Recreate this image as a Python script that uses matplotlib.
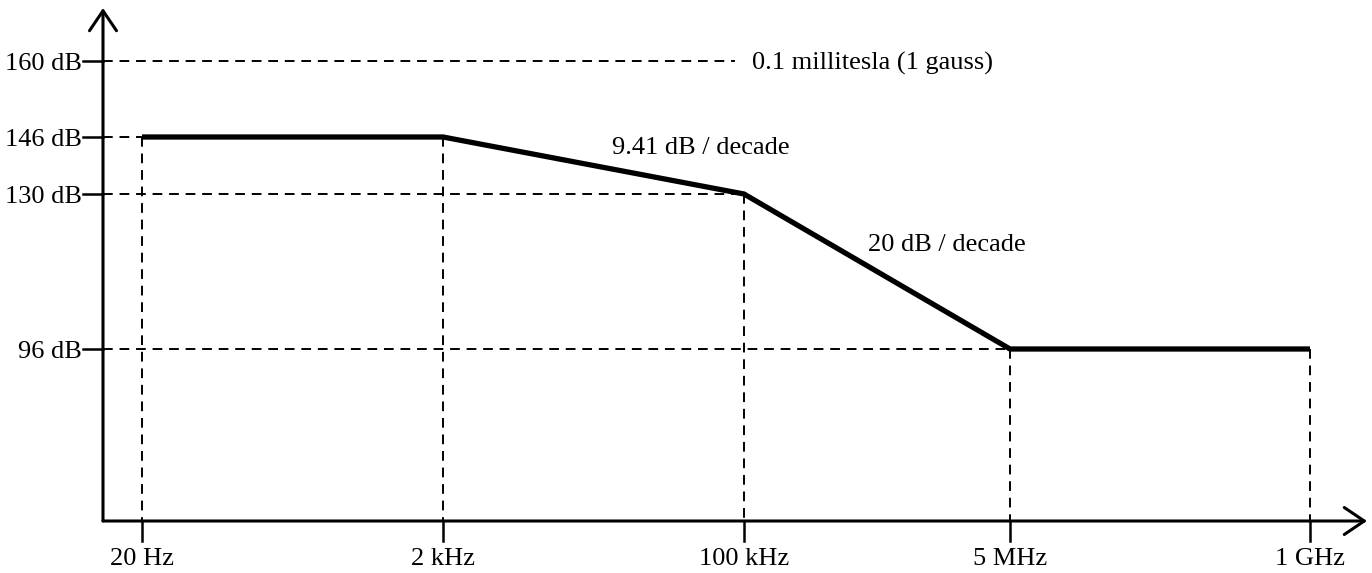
import numpy as np
import matplotlib.pyplot as plt
from matplotlib.transforms import offset_copy

# data
freqs = [20, 2e3, 1e5, 5e6, 1e9]
freq_labels = ["20 Hz", "2 kHz", "100 kHz", "5 MHz", "1 GHz"]
levels = [146, 146, 130, 96, 96]
level_ticks = [96, 130, 146, 160]
level_labels = ["96 dB", "130 dB", "146 dB", "160 dB"]
ref_level = 160
ref_label = "0.1 millitesla (1 gauss)"
slope_labels = ["9.41 dB / decade", "20 dB / decade"]

# the drawing is schematic: each break sits at a fixed pixel spot
W, H = 1372, 573
x_px = [142, 443, 744, 1010, 1310]
y_px = [349, 194, 137, 61]


def piecewise(a, b):
    a = np.asarray(a, float)
    b = np.asarray(b, float)
    a_ext = np.r_[a[0] - 10 * (a[1] - a[0]), a, a[-1] + 10 * (a[-1] - a[-2])]
    b_ext = np.r_[b[0] - 10 * (b[1] - b[0]), b, b[-1] + 10 * (b[-1] - b[-2])]
    return (lambda v: np.interp(v, a_ext, b_ext)), (lambda v: np.interp(v, b_ext, a_ext))


fx_lin, fx_lin_inv = piecewise(np.log10(freqs), x_px)
fx = lambda v: fx_lin(np.log10(np.clip(v, 1e-30, None)))
fx_inv = lambda p: 10 ** fx_lin_inv(p)
fy, fy_inv = piecewise(level_ticks, H - np.array(y_px))

px_x = lambda p: fx_inv(p)
px_y = lambda p: fy_inv(H - p)

plt.rcParams["font.family"] = ["Liberation Serif", "DejaVu Serif"]
fig = plt.figure(figsize=(W / 100, H / 100), dpi=100)
ax = fig.add_axes([0, 0, 1, 1])
ax.set_xscale("function", functions=(fx, fx_inv))
ax.set_yscale("function", functions=(fy, fy_inv))
ax.set_xlim(px_x(0), px_x(W))
ax.set_ylim(px_y(H), px_y(0))
ax.axis("off")

x0, y0 = px_x(103), px_y(521)
fs = 19
# text centred on the caps, not on the full line box
mid = offset_copy(ax.transData, fig=fig, y=-6.3, units="points")

# axes with arrow heads
arrow = dict(arrowstyle="->, head_length=0.4, head_width=0.27", lw=2.2,
             color="k", mutation_scale=36, shrinkA=0, shrinkB=0)
ax.annotate("", xy=(px_x(1367), y0), xytext=(x0, y0), arrowprops=arrow)
ax.annotate("", xy=(x0, px_y(8)), xytext=(x0, y0), arrowprops=arrow)

# dashed guides
dash = dict(color="k", lw=1.4, dashes=(5, 3.5))
for f, lv in zip(freqs, levels):
    ax.plot([f, f], [lv, y0], **dash)
for lv in sorted(set(levels)):
    f = freqs[levels.index(lv)]
    ax.plot([x0, f], [lv, lv], **dash)
ax.plot([x0, px_x(735)], [ref_level, ref_level], **dash)

# main curve
ax.plot(freqs, levels, color="k", lw=3.8, solid_capstyle="butt", solid_joinstyle="miter")

# ticks and labels
for f, lab in zip(freqs, freq_labels):
    ax.plot([f, f], [y0, px_y(541)], color="k", lw=1.8)
    ax.text(f, px_y(565), lab, ha="center", va="baseline", fontsize=fs)
for lv, lab in zip(level_ticks, level_labels):
    ax.plot([px_x(83), x0], [lv, lv], color="k", lw=1.8)
    ax.text(px_x(82), lv, lab, ha="right", va="baseline", fontsize=fs, transform=mid)

ax.text(px_x(752), ref_level, ref_label, ha="left", va="baseline", fontsize=fs, transform=mid)
ax.text(px_x(612), px_y(145), slope_labels[0], ha="left", va="baseline", fontsize=fs, transform=mid)
ax.text(px_x(868), px_y(242), slope_labels[1], ha="left", va="baseline", fontsize=fs, transform=mid)

fig.savefig("out.png", dpi=100)
